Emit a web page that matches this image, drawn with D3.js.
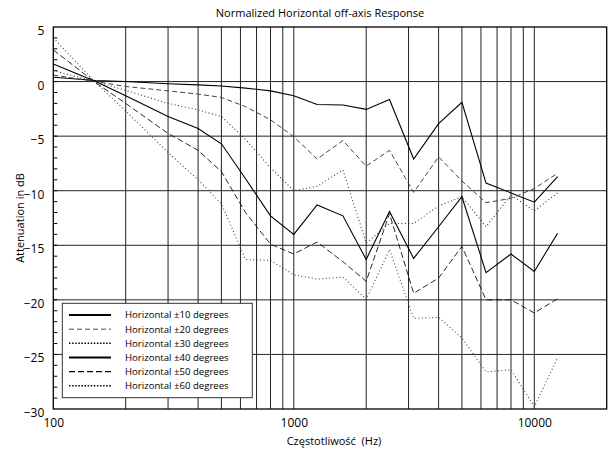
<!DOCTYPE html>
<html><head><meta charset="utf-8">
<script src="https://cdn.jsdelivr.net/npm/d3@7"></script>
<style>
body{margin:0;background:#fff;}
svg{display:block;font-family:"Open Sans",sans-serif;}
</style></head>
<body><svg id="c" width="615" height="454"></svg>
<script>
const freqs = [100,150,200,300,400,500,630,800,1000,1250,1600,2000,2500,3150,4000,5000,6300,8000,10000,12500];
const h10 = [0.4,0.1,0.0,-0.2,-0.3,-0.4,-0.6,-0.85,-1.3,-2.1,-2.15,-2.55,-1.65,-7.1,-3.85,-1.9,-9.3,-10.2,-11.05,-8.7];
const h20 = [0.6,0.0,-0.45,-0.85,-1.15,-1.45,-2.3,-3.5,-5.05,-7.1,-5.4,-7.75,-6.3,-10.15,-6.9,-9.1,-11.1,-10.7,-9.8,-8.4];
const h30 = [1.0,0.0,-0.8,-2.0,-2.6,-3.2,-5.3,-7.9,-10.0,-9.6,-8.1,-14.8,-13.0,-13.0,-11.4,-10.55,-13.3,-10.4,-11.85,-10.2];
const h40 = [1.6,0.0,-1.3,-3.2,-4.3,-5.7,-8.9,-12.3,-14.0,-11.3,-12.3,-16.3,-11.9,-16.2,-13.3,-10.55,-17.5,-15.8,-17.4,-13.9];
const h50 = [2.9,-0.1,-2.0,-4.75,-6.3,-8.25,-12.0,-14.9,-15.8,-14.7,-16.5,-18.3,-12.1,-19.4,-18.0,-15.1,-20.0,-20.0,-21.2,-19.9];
const h60 = [4.0,-0.1,-2.7,-6.5,-9.0,-11.2,-16.3,-16.4,-17.7,-18.1,-17.9,-19.95,-15.4,-21.7,-21.6,-23.5,-26.6,-26.4,-29.8,-25.3];
const seriesNames = ["Horizontal \u00b110 degrees","Horizontal \u00b120 degrees","Horizontal \u00b130 degrees","Horizontal \u00b140 degrees","Horizontal \u00b150 degrees","Horizontal \u00b160 degrees"];
const xTickLabels = [100,1000,10000];
const yTickLabels = [5,0,-5,-10,-15,-20,-25,-30];
const xGrid = [200,300,400,500,600,700,800,900,1000,2000,3000,4000,5000,6000,7000,8000,9000,10000];
const yGrid = [0,-5,-10,-15,-20,-25];

const series = [h10,h20,h30,h40,h50,h60];
const styles = [
  {c:"#000",w:1.1,d:null,lc:"#000",lw:2,ld:null},
  {c:"#444",w:1,d:"5,3",lc:"#888",lw:1.5,ld:"5,3"},
  {c:"#333",w:1.1,d:"1,2.5",lc:"#000",lw:1.6,ld:"1.5,1.6"},
  {c:"#000",w:1.1,d:null,lc:"#000",lw:2,ld:null},
  {c:"#111",w:0.9,d:"6,3",lc:"#000",lw:1.3,ld:"6,3"},
  {c:"#444",w:1.1,d:"1,2.5",lc:"#000",lw:1.6,ld:"1.5,1.6"}
];

const L=53.3,R=606.7,T=27,B=409;
const x = d3.scaleLog().domain([100,20000]).range([L,R]);
const y = d3.scaleLinear().domain([-30,5]).range([B,T]);
const svg = d3.select("#c");

// grid
svg.append("g").selectAll("line").data(xGrid).join("line")
  .attr("x1",d=>x(d)).attr("x2",d=>x(d)).attr("y1",T).attr("y2",B)
  .attr("stroke","#222").attr("stroke-width",1);
svg.append("g").selectAll("line").data(yGrid).join("line")
  .attr("x1",L).attr("x2",R).attr("y1",d=>y(d)).attr("y2",d=>y(d))
  .attr("stroke","#222").attr("stroke-width",1);
// minor y ticks
svg.append("g").selectAll("line").data(d3.range(-29,5)).join("line")
  .attr("x1",L).attr("x2",L+4).attr("y1",d=>y(d)).attr("y2",d=>y(d))
  .attr("stroke","#000").attr("stroke-width",1);

// curves
const line = d3.line().x((d,i)=>x(freqs[i])).y(d=>y(d));
series.forEach((s,k)=>{
  svg.append("path").datum(s).attr("d",line)
    .attr("fill","none").attr("stroke",styles[k].c).attr("stroke-width",styles[k].w)
    .attr("stroke-dasharray",styles[k].d);
});

// frame
svg.append("rect").attr("x",L).attr("y",T).attr("width",R-L).attr("height",B-T)
  .attr("fill","none").attr("stroke","#000").attr("stroke-width",1.3);

// axes labels
const ax = svg.append("g").attr("transform",`translate(0,${B})`)
  .call(d3.axisBottom(x).tickValues(xTickLabels).tickSize(0).tickPadding(9).tickFormat(d3.format("d")));
ax.select(".domain").remove();
ax.selectAll("text").attr("font-size",12).attr("fill","#000").attr("font-family","Open Sans");
const ay = svg.append("g").attr("transform",`translate(${L},0)`)
  .call(d3.axisLeft(y).tickValues(yTickLabels).tickSize(0).tickPadding(9).tickFormat(d3.format("d")));
ay.select(".domain").remove();
ay.selectAll("text").attr("font-size",12).attr("fill","#000").attr("dy","0.62em").attr("font-family","Open Sans");

// titles
svg.append("text").attr("x",320).attr("y",17).attr("text-anchor","middle")
  .attr("font-size",11).text("Normalized Horizontal off-axis Response");
svg.append("text").attr("x",334).attr("y",445).attr("text-anchor","middle")
  .attr("font-size",11).text("Częstotliwość\u00a0 (Hz)");
svg.append("text").attr("transform","translate(24,218) rotate(-90)").attr("text-anchor","middle")
  .attr("font-size",11).text("Attenuation in dB");

// legend
const lg = svg.append("g");
lg.append("rect").attr("x",62.3).attr("y",303.3).attr("width",190).attr("height",94.4)
  .attr("fill","#fff").attr("stroke","#333").attr("stroke-width",1);
const rowY = d3.scaleLinear().domain([0,5]).range([315,385.7]);
seriesNames.forEach((n,k)=>{
  lg.append("line").attr("x1",69).attr("x2",111).attr("y1",rowY(k)).attr("y2",rowY(k))
    .attr("stroke",styles[k].lc).attr("stroke-width",styles[k].lw).attr("stroke-dasharray",styles[k].ld);
  lg.append("text").attr("x",125).attr("y",rowY(k)).attr("dy","0.35em")
    .attr("font-size",9.6).text(n);
});
</script></body></html>
